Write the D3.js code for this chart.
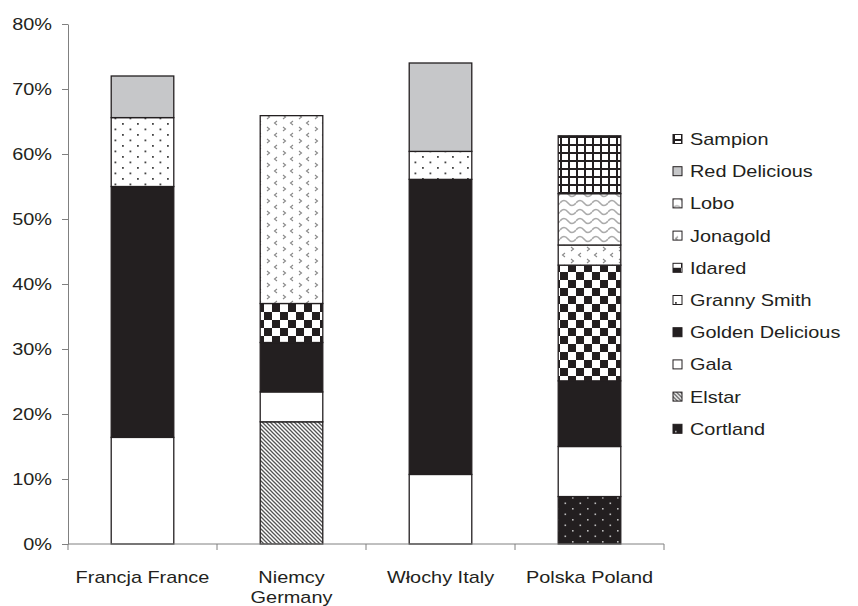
<!DOCTYPE html>
<html>
<head>
<meta charset="utf-8">
<script src="https://cdn.jsdelivr.net/npm/d3@7"></script>
<style>
  body { margin: 0; background: #fff; }
  text { font-family: "Liberation Sans", Arial, sans-serif; fill: #231f20; }
</style>
</head>
<body>
<svg id="chart" width="858" height="606"></svg>
<script>
// categories (two-line labels where the original wraps)
var countries = ["Francja France", "Niemcy Germany", "Włochy Italy", "Polska Poland"];
var countryLines = [["Francja France"], ["Niemcy", "Germany"], ["Włochy Italy"], ["Polska Poland"]];

// varieties, bottom of stack first
var varieties = ["Cortland", "Elstar", "Gala", "Golden Delicious", "Granny Smith",
                 "Idared", "Jonagold", "Lobo", "Red Delicious", "Sampion"];

// share of each variety (%), one array per country, same order as varieties
var france  = [0,   0,    16.4, 38.6, 10.6, 0,    0,    0,   6.4,  0];
var germany = [0,   18.8, 4.6,  7.6,  0,    6.0,  28.9, 0,   0,    0];
var italy   = [0,   0,    10.7, 45.4, 4.3,  0,    0,    0,   13.6, 0];
var poland  = [7.3, 0,    7.7,  10.1, 0,    17.8, 3.1,  7.9, 0,    8.9];

var yTicks = [0, 10, 20, 30, 40, 50, 60, 70, 80];

var seriesByCountry = [france, germany, italy, poland];
var rows = countries.map(function(c, i) {
  var r = { country: c };
  varieties.forEach(function(v, j) { r[v] = seriesByCountry[i][j]; });
  return r;
});

var ink = "#231f20";
var fontSize = "17px";
var stretchX = 1.17;   // the original text is set wider than Liberation Sans

var svg = d3.select("#chart");
var defs = svg.append("defs");

// widen a text around its own anchor point
function stretch(sel) {
  sel.attr("transform", function() {
    var t = d3.select(this);
    var ax = +t.attr("x") || 0, ay = +t.attr("y") || 0;
    return "translate(" + ax + "," + ay + ") scale(" + stretchX + ",1) translate(" + (-ax) + "," + (-ay) + ")";
  });
}

// fill patterns
function pat(id, w, h) {
  return defs.append("pattern").attr("id", id)
    .attr("patternUnits", "userSpaceOnUse").attr("width", w).attr("height", h);
}
var p;
p = pat("p-cortland", 15, 11);
p.append("rect").attr("width", 15).attr("height", 11).attr("fill", ink);
p.append("rect").attr("x", 2).attr("y", 2).attr("width", 1.6).attr("height", 1.6).attr("fill", "#bbb");
p.append("rect").attr("x", 9.5).attr("y", 7.5).attr("width", 1.6).attr("height", 1.6).attr("fill", "#bbb");

p = pat("p-elstar", 4, 4);
p.append("rect").attr("width", 4).attr("height", 4).attr("fill", "#fff");
p.append("path").attr("d", "M-1,-1L5,5M-1,3L1,5M3,-1L5,1").attr("stroke", "#555").attr("stroke-width", 1.3);

p = pat("p-granny", 15, 11);
p.append("rect").attr("width", 15).attr("height", 11).attr("fill", "#fff");
p.append("rect").attr("x", 2).attr("y", 2).attr("width", 1.8).attr("height", 1.8).attr("fill", "#444");
p.append("rect").attr("x", 9.5).attr("y", 7.5).attr("width", 1.8).attr("height", 1.8).attr("fill", "#444");

p = pat("p-idared", 16, 16);
p.append("rect").attr("width", 16).attr("height", 16).attr("fill", "#fff");
p.append("rect").attr("x", 0).attr("y", 0).attr("width", 8).attr("height", 8).attr("fill", ink);
p.append("rect").attr("x", 8).attr("y", 8).attr("width", 8).attr("height", 8).attr("fill", ink);

p = pat("p-jonagold", 16, 12);
p.append("rect").attr("width", 16).attr("height", 12).attr("fill", "#fff");
p.append("path").attr("d", "M5,1L2.5,3L5,5M11,7L13.5,9L11,11").attr("fill", "none")
  .attr("stroke", "#888").attr("stroke-width", 1.1);

p = pat("p-lobo", 16, 9);
p.append("rect").attr("width", 16).attr("height", 9).attr("fill", "#fff");
p.append("path").attr("d", "M0,5Q4,0 8,5T16,5").attr("fill", "none")
  .attr("stroke", "#aaa").attr("stroke-width", 1.6);

p = pat("p-sampion", 8, 8);
p.append("rect").attr("width", 8).attr("height", 8).attr("fill", "#fff");
p.append("path").attr("d", "M1,0V8M0,1H8").attr("stroke", ink).attr("stroke-width", 2);

var fills = ["url(#p-cortland)", "url(#p-elstar)", "#ffffff", ink, "url(#p-granny)",
             "url(#p-idared)", "url(#p-jonagold)", "url(#p-lobo)", "#c6c7c9", "url(#p-sampion)"];
var color = d3.scaleOrdinal().domain(varieties).range(fills);

var plotLeft = 68, plotRight = 664, plotTop = 24, plotBottom = 544;

var x = d3.scaleBand().domain(countries).range([plotLeft, plotRight])
  .paddingInner(0.58).paddingOuter(0.29);
var y = d3.scaleLinear().domain([0, 80]).range([plotBottom, plotTop]);

var stack = d3.stack().keys(varieties)(rows);

svg.append("g").selectAll("g")
  .data(stack)
  .enter().append("g")
  .attr("fill", function(d) { return color(d.key); })
  .selectAll("rect")
  .data(function(d) { return d.filter(function(s) { return s[1] - s[0] > 0; }); })
  .enter().append("rect")
  .attr("x", function(d) { return x(d.data.country); })
  .attr("y", function(d) { return y(d[1]); })
  .attr("width", x.bandwidth())
  .attr("height", function(d) { return y(d[0]) - y(d[1]); })
  .attr("stroke", ink)
  .attr("stroke-width", 1.3);

// y axis
var yAxis = svg.append("g").attr("transform", "translate(" + plotLeft + ",0)")
  .call(d3.axisLeft(y).tickValues(yTicks).tickSize(6).tickSizeOuter(0).tickPadding(10)
    .tickFormat(function(d) { return d + "%"; }));
yAxis.selectAll("text").style("font-size", fontSize).style("fill", ink).call(stretch);
yAxis.selectAll("line, path").attr("stroke", "#808080");

// x axis with ticks between categories
var step = x.step();
var xGrid = d3.range(countries.length + 1).map(function(i) {
  return plotLeft + i * step;
});
var xAxis = svg.append("g");
xAxis.append("line").attr("x1", plotLeft).attr("x2", plotRight)
  .attr("y1", plotBottom).attr("y2", plotBottom).attr("stroke", "#808080");
xAxis.selectAll("line.tick").data(xGrid).enter().append("line")
  .attr("x1", function(d) { return d; }).attr("x2", function(d) { return d; })
  .attr("y1", plotBottom).attr("y2", plotBottom + 6).attr("stroke", "#808080");

var lbl = xAxis.selectAll("text.cat").data(countries).enter().append("text")
  .attr("text-anchor", "middle")
  .attr("x", function(d) { return x(d) + x.bandwidth() / 2; })
  .attr("y", 583)
  .style("font-size", fontSize);
lbl.selectAll("tspan").data(function(d, i) { return countryLines[i]; })
  .enter().append("tspan")
  .attr("x", function() { return d3.select(this.parentNode).attr("x"); })
  .attr("dy", function(d, i) { return i === 0 ? 0 : 20; })
  .text(function(d) { return d; });
lbl.call(stretch);

// legend, top entry = last stack layer
var legendItems = varieties.slice().reverse();
var legend = svg.append("g").selectAll("g").data(legendItems).enter().append("g")
  .attr("transform", function(d, i) { return "translate(673," + (139 + i * 32.2) + ")"; });
legend.append("rect").attr("x", 0).attr("y", -4.5).attr("width", 9).attr("height", 9)
  .attr("fill", function(d) { return color(d); }).attr("stroke", ink).attr("stroke-width", 1);
legend.append("text").attr("x", 17).attr("y", 6).style("font-size", fontSize)
  .text(function(d) { return d; })
  .call(stretch);
</script>
</body>
</html>
